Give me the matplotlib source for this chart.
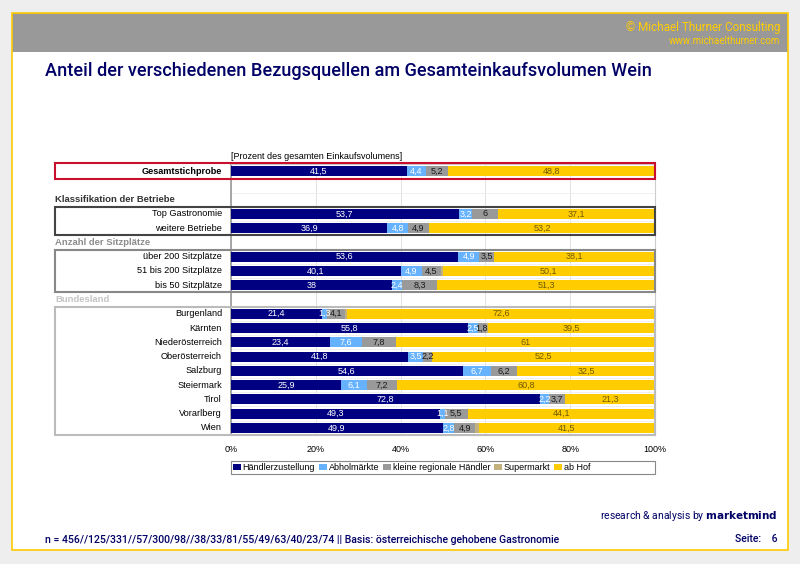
import numpy as np
import matplotlib
matplotlib.use("Agg")
from matplotlib import pyplot as plt
from matplotlib.patches import Rectangle
from matplotlib import transforms

rows = ["Gesamtstichprobe", "", "Klassifikation der Betriebe", "Top Gastronomie", "weitere Betriebe",
        "Anzahl der Sitzplätze", "über 200 Sitzplätze", "51 bis 200 Sitzplätze", "bis 50 Sitzplätze",
        "Bundesland", "Burgenland", "Kärnten", "Niederösterreich", "Oberösterreich", "Salzburg",
        "Steiermark", "Tirol", "Vorarlberg", "Wien"]
header_rows = {2: "#333333", 5: "#8c8c8c", 9: "#c4c4c4"}

series_names = ["Händlerzustellung", "Abholmärkte", "kleine regionale Händler", "Supermarkt", "ab Hof"]
haendler = [41.5, 0, 0, 53.7, 36.9, 0, 53.6, 40.1, 38, 0, 21.4, 55.8, 23.4, 41.8, 54.6, 25.9, 72.8, 49.3, 49.9]
abhol = [4.4, 0, 0, 3.2, 4.8, 0, 4.9, 4.9, 2.4, 0, 1.3, 2.5, 7.6, 3.5, 6.7, 6.1, 2.2, 1.1, 2.8]
kleine = [5.2, 0, 0, 6, 4.9, 0, 3.5, 4.5, 8.3, 0, 4.1, 1.8, 7.8, 2.2, 6.2, 7.2, 3.7, 5.5, 4.9]
supermarkt = [0.1, 0, 0, 0, 0.2, 0, 0, 0.4, 0, 0, 0.6, 0.4, 0.2, 0, 0, 0, 0, 0, 0.9]
abhof = [48.8, 0, 0, 37.1, 53.2, 0, 38.1, 50.1, 51.3, 0, 72.6, 39.5, 61, 52.5, 32.5, 60.8, 21.3, 44.1, 41.5]

colors = ["#000080", "#66b2ff", "#999999", "#c2b280", "#ffcc00"]
label_colors = ["white", "white", "#1a1a1a", None, "#6e5a00"]

W, H = 800, 564
fig = plt.figure(figsize=(8, 5.64), dpi=100)
fig.patch.set_facecolor("#eeeeee")

def fx(px):
    return px / W

def fy(py):
    return 1 - py / H

# page frame and header bar (behind the axes)
fig.add_artist(Rectangle((fx(12), fy(550)), fx(776), (550 - 13) / H, facecolor="white",
                         edgecolor="none", zorder=-3))
fig.add_artist(Rectangle((fx(12), fy(52)), fx(776), 39 / H, facecolor="#999999", edgecolor="none", zorder=-2))
fig.add_artist(Rectangle((fx(12), fy(550)), fx(776), (550 - 13) / H, fill=False, edgecolor="#ffcc00",
                         lw=1.2, zorder=-1))
fig.text(fx(780), fy(27), "© Michael Thurner Consulting", color="#ffcc00", fontsize=8.5,
         family="Roboto", ha="right", va="center")
fig.text(fx(780), fy(41), "www.michaelthurner.com", color="#ffcc00", fontsize=7,
         family="Roboto", ha="right", va="center")
fig.text(fx(45), fy(71), "Anteil der verschiedenen Bezugsquellen am Gesamteinkaufsvolumen Wein",
         color="#000066", fontsize=13.1, family="Roboto", fontweight="medium", ha="left", va="center")

ax = fig.add_axes([fx(231), fy(435), fx(655 - 231), (435 - 164) / H])
ax.set_facecolor("white")
y = np.arange(len(rows))
data = [haendler, abhol, kleine, supermarkt, abhof]
left = np.zeros(len(rows))
for vals, c, lc, name in zip(data, colors, label_colors, series_names):
    vals = np.array(vals, dtype=float)
    ax.barh(y, vals, left=left, height=0.7, color=c, label=name, zorder=3)
    if lc is not None:
        for i, v in enumerate(vals):
            if v > 0:
                ax.text(left[i] + v / 2, i, f"{v:g}".replace(".", ","), ha="center", va="center",
                        color=lc, fontsize=6.5, family="Liberation Sans", zorder=4)
    left += vals

ax.set_xlim(0, 100)
ax.set_ylim(len(rows) - 0.5, -0.5)
ax.set_xticks(np.arange(0, 101, 20))
ax.set_xticklabels([f"{t}%" for t in range(0, 101, 20)], fontsize=6.5, family="Liberation Sans")
ax.tick_params(axis="x", length=0, pad=7)
ax.set_yticks([])
ax.set_yticks(np.arange(-0.5, len(rows), 1), minor=True)
ax.tick_params(axis="y", which="both", length=0)
ax.xaxis.grid(True, color="#dddddd", lw=0.6, zorder=0)
ax.yaxis.grid(True, which="minor", color="#eeeeee", lw=0.6, zorder=0)
ax.set_axisbelow(True)
ax.spines["left"].set_color("#999999")
ax.spines["left"].set_linewidth(1.2)
for s in ["right", "bottom", "top"]:
    ax.spines[s].set_color("#cccccc")

blend = transforms.blended_transform_factory(fig.transFigure, ax.transData)
for i, name in enumerate(rows):
    if i in header_rows:
        ax.text(fx(55), i, name, transform=blend, ha="left", va="center", fontsize=6.8,
                fontweight="bold", color=header_rows[i], family="Liberation Sans")
    elif name:
        ax.text(fx(222), i, name, transform=blend, ha="right", va="center", fontsize=6.6,
                fontweight="bold" if i == 0 else "normal", color="black", family="Liberation Sans")

boxes = [(-0.55, 0.55, "#c8102e"), (2.5, 4.5, "#444444"), (5.5, 8.5, "#888888"), (9.5, 18.5, "#bbbbbb")]
for y0, y1, c in boxes:
    ax.add_patch(Rectangle((fx(55), y0), fx(600), y1 - y0, transform=blend, fill=False,
                           edgecolor=c, lw=1.5, clip_on=False, zorder=5))

ax.text(0, -1.05, "[Prozent des gesamten Einkaufsvolumens]", ha="left", va="center",
        fontsize=6.5, family="Liberation Sans")

# legend
fig.add_artist(Rectangle((fx(231), fy(474)), fx(424), 13 / H, fill=False, edgecolor="#888888", lw=0.8))
ax.legend(loc="center left", bbox_to_anchor=(fx(231), fy(467.5)), bbox_transform=fig.transFigure,
          ncol=5, frameon=False, prop={"family": "Liberation Sans", "size": 6.5},
          handlelength=0.9, handleheight=0.7, handletextpad=0.2, columnspacing=0.4, borderpad=0,
          borderaxespad=0.2)

# footer
fig.text(fx(778), fy(516), "research & analysis by $\\bf{marketmind}$", color="#000066", fontsize=7.5,
         family="Roboto", ha="right", va="center")
fig.text(fx(45), fy(540), "n = 456//125/331//57/300/98//38/33/81/55/49/63/40/23/74 || Basis: österreichische gehobene Gastronomie",
         color="#000066", fontsize=7.6, family="Roboto", fontweight="medium", ha="left", va="center")
fig.text(fx(778), fy(539), "Seite:    6", color="#000066", fontsize=7.6, family="Roboto",
         fontweight="medium", ha="right", va="center")

fig.savefig("out.png", dpi=100, facecolor=fig.get_facecolor())
